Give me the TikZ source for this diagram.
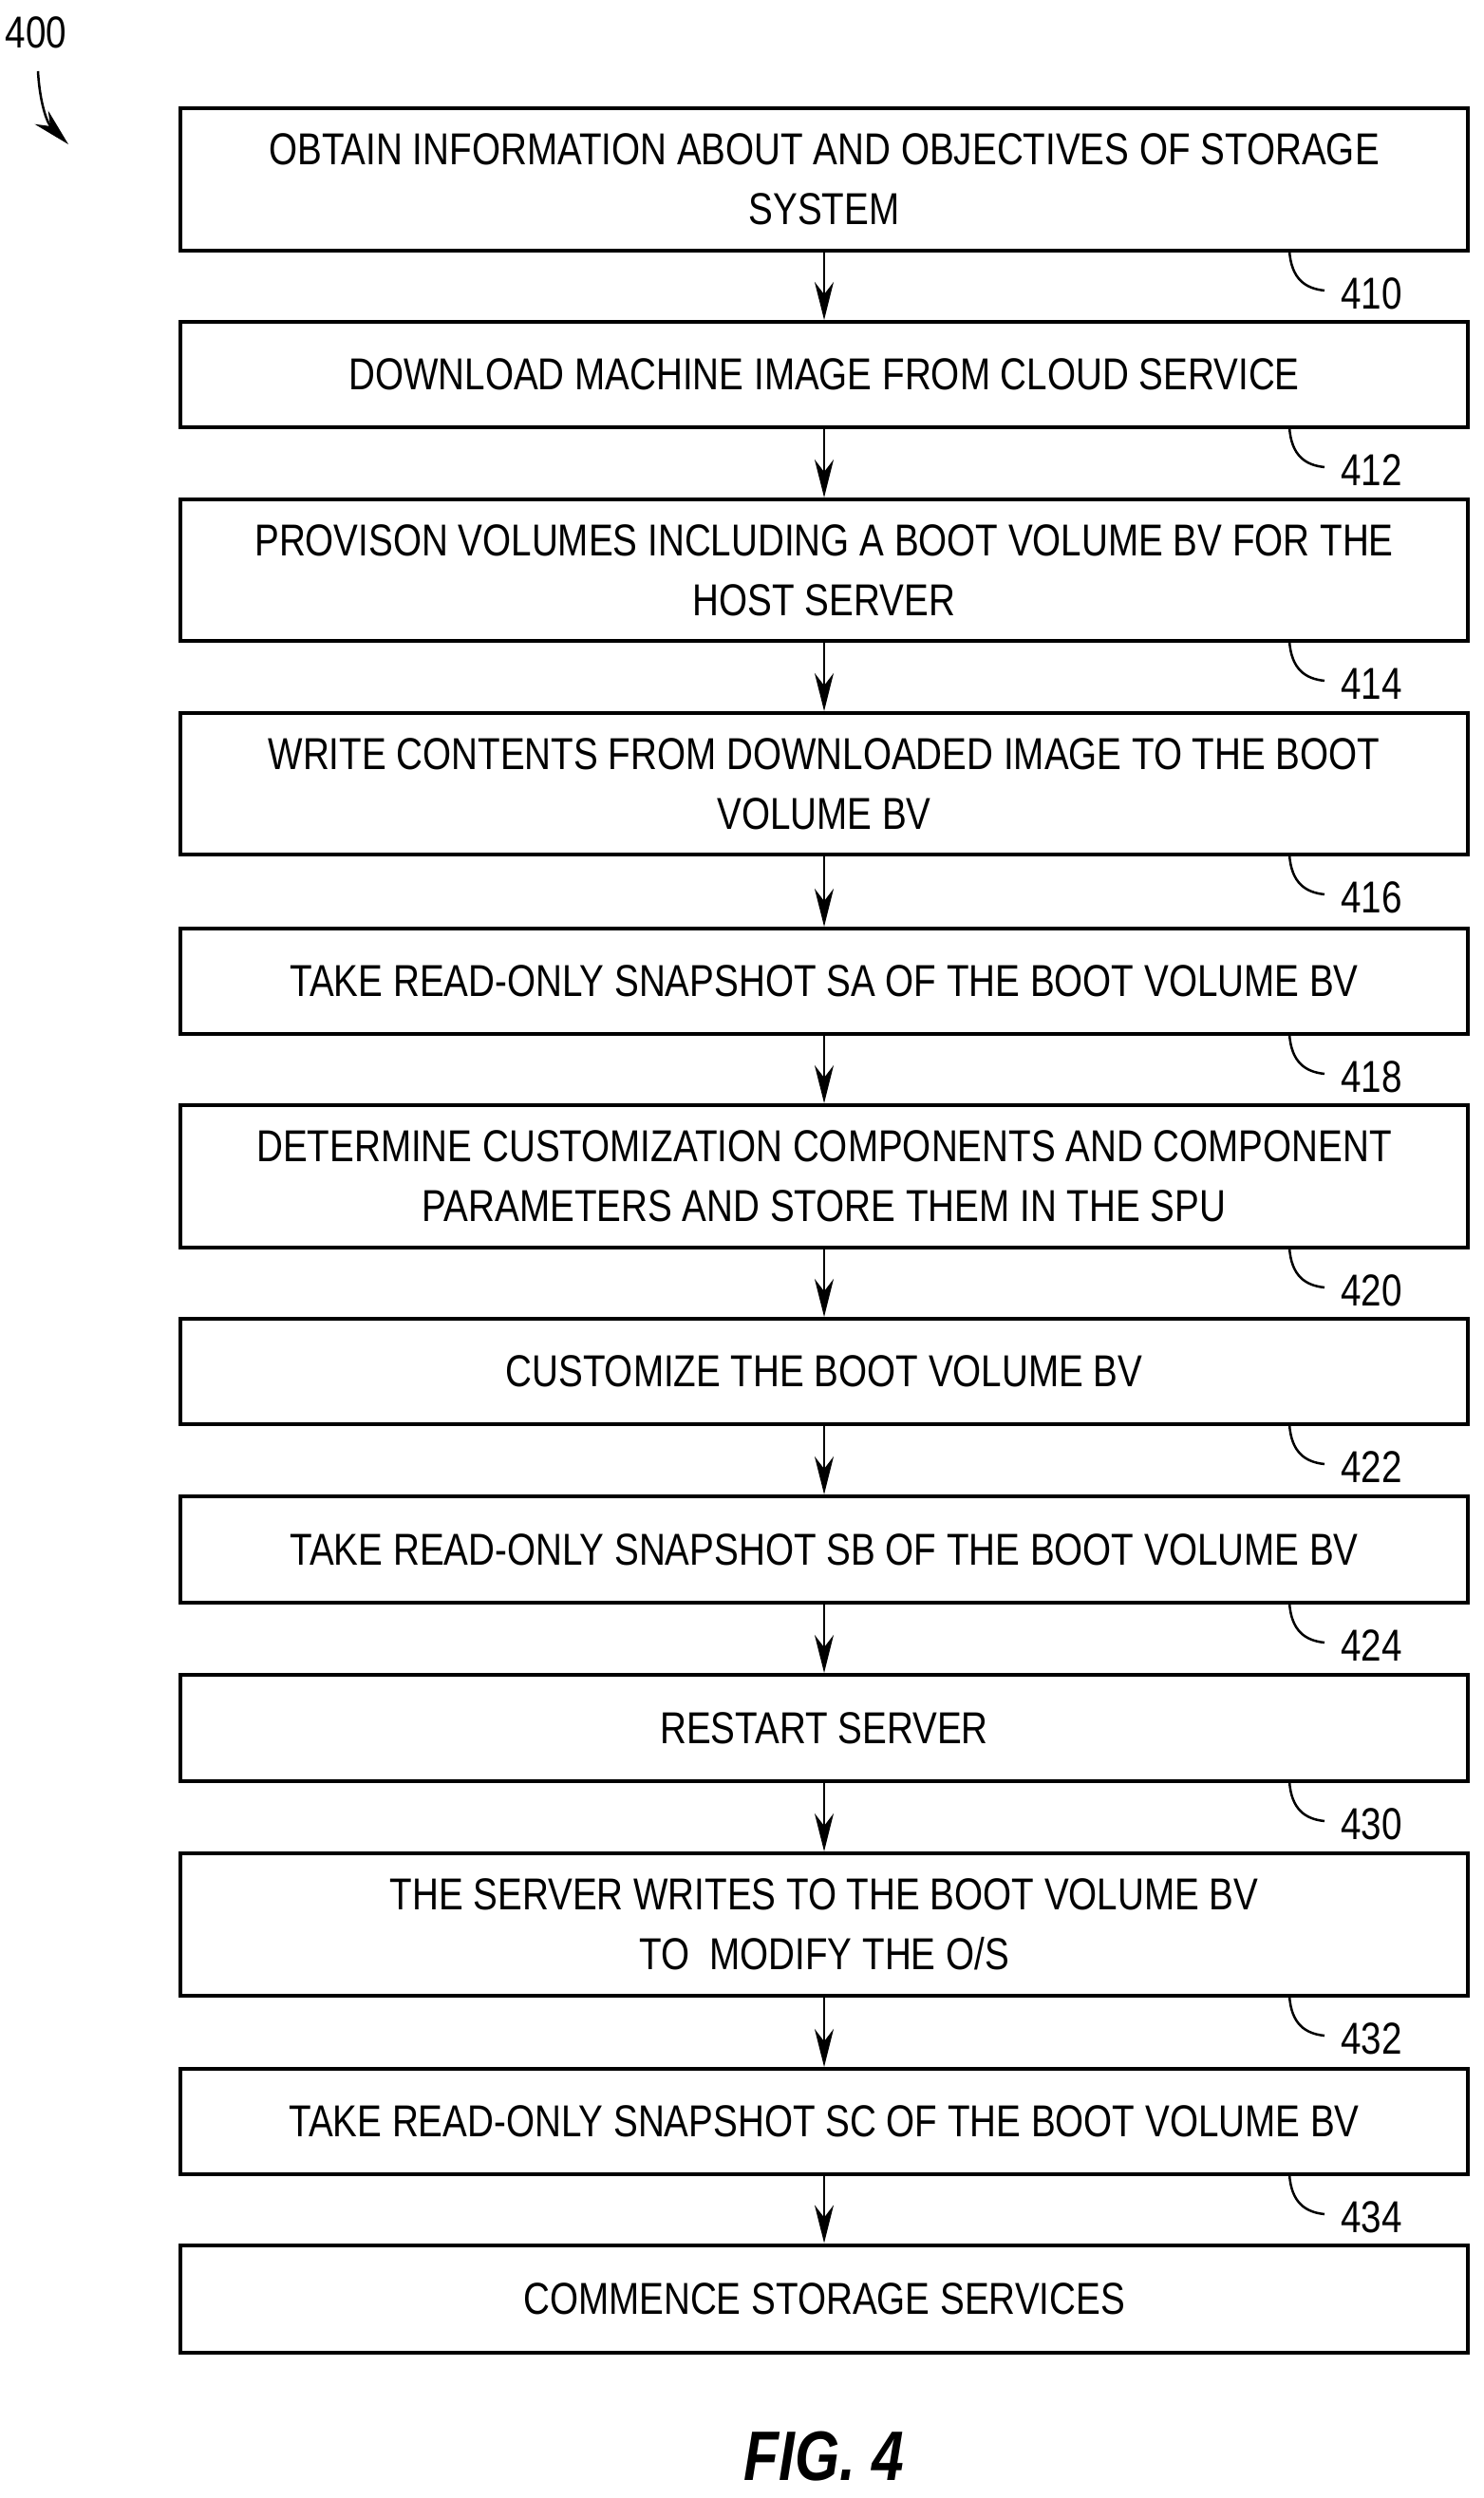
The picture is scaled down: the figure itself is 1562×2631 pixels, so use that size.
\documentclass[tikz,border=0pt]{standalone}
\usepackage{fontspec}
\setmainfont{Liberation Sans}[FakeStretch=0.82]
\usetikzlibrary{arrows.meta}
\begin{document}
\begin{tikzpicture}[x=0.1mm,y=-0.1mm,
  stepbox/.style={draw,line width=0.4mm,minimum width=135.6mm,align=center,font=\fontsize{13.4}{18}\selectfont,inner sep=0pt},
  flow/.style={line width=0.25mm,-{Stealth[length=4mm,width=2mm]}},
  hook/.style={line width=0.25mm},
  reflab/.style={font=\fontsize{13.4}{16}\selectfont,anchor=west}]
\useasboundingbox (0,0) rectangle (1562,2631);
\def\boxes{b410/114/264/{OBTAIN INFORMATION ABOUT AND OBJECTIVES OF STORAGE\\SYSTEM}/410,
b412/339/450/{DOWNLOAD MACHINE IMAGE FROM CLOUD SERVICE}/412,
b414/526/675/{PROVISON VOLUMES INCLUDING A BOOT VOLUME BV FOR THE\\HOST SERVER}/414,
b416/751/900/{WRITE CONTENTS FROM DOWNLOADED IMAGE TO THE BOOT\\VOLUME BV}/416,
b418/978/1089/{TAKE READ-ONLY SNAPSHOT SA OF THE BOOT VOLUME BV}/418,
b420/1164/1314/{DETERMINE CUSTOMIZATION COMPONENTS AND COMPONENT\\PARAMETERS AND STORE THEM IN THE SPU}/420,
b422/1389/1500/{CUSTOMIZE THE BOOT VOLUME BV}/422,
b424/1576/1688/{TAKE READ-ONLY SNAPSHOT SB OF THE BOOT VOLUME BV}/424,
b430/1764/1876/{RESTART SERVER}/430,
b432/1952/2102/{THE SERVER WRITES TO THE BOOT VOLUME BV\\TO\ \ MODIFY THE O/S}/432,
b434/2179/2290/{TAKE READ-ONLY SNAPSHOT SC OF THE BOOT VOLUME BV}/434}
\foreach \n/\t/\b/\txt/\lab in \boxes {
  \node[stepbox,minimum height={(\b-\t)*0.1mm}] (\n) at (868,{(\t+\b)/2}) {\txt};
  \coordinate (\n h) at (1358,\b);
  \draw[hook] (\n h) .. controls (1360,\b+30) and (1375,\b+40) .. (1395,\b+42);
  \node[reflab] (\n l) at (1400,\b+45) {\lab};
}
\node[stepbox,minimum height=11.3mm] (bend) at (868,2421) {COMMENCE STORAGE SERVICES};
\foreach \a/\c in {b410/b412,b412/b414,b414/b416,b416/b418,b418/b420,b420/b422,b422/b424,b424/b430,b430/b432,b432/b434,b434/bend}
  \draw[flow] (\a.south) -- (\c.north);
\node[font=\fontsize{13.4}{16}\selectfont] (n400) at (38,34) {400};
\coordinate (a400) at (72,152);
\draw[line width=0.25mm,-{Stealth[length=4mm,width=2mm]}] (40,75) .. controls (42,110) and (50,130) .. (a400);
\node[font=\fontsize{21}{24}\selectfont\bfseries\itshape] (fig) at (868,2587) {FIG. 4};
\end{tikzpicture}
\end{document}
